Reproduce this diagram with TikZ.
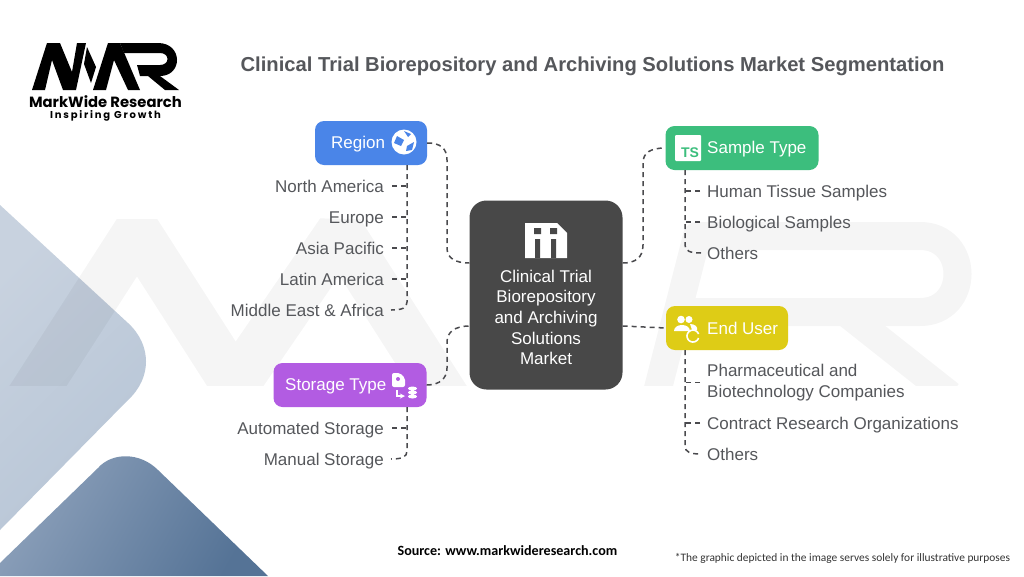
\documentclass[tikz,border=0pt]{standalone}
\usepackage{fontspec}
\setmainfont{Liberation Sans}
\newfontfamily\logofont{Poppins}
\newfontfamily\notefont{Carlito}
\usetikzlibrary{shadings,calc}
\definecolor{txtgray}{HTML}{55575B}
\definecolor{darkbox}{HTML}{484848}
\definecolor{conn}{HTML}{4A4A4E}
\definecolor{regionc}{HTML}{4A85E8}
\definecolor{samplec}{HTML}{3CBE7D}
\definecolor{storagec}{HTML}{B25CE2}
\definecolor{userc}{HTML}{DECC16}
\tikzset{
 x=1pt,y=-1pt,
 catbox/.style={rounded corners=9pt,draw=none,inner sep=0,minimum height=44pt},
 cattext/.style={text=white,font=\fontsize{17}{20}\selectfont,inner sep=0,anchor=west,text height=12pt,text depth=0pt},
 leftitem/.style={text=txtgray,font=\fontsize{17}{20}\selectfont,inner sep=0,anchor=east,text height=12pt,text depth=0pt},
 rightitem/.style={text=txtgray,font=\fontsize{17}{20}\selectfont,inner sep=0,anchor=west,text height=12pt,text depth=0pt},
 rightblock/.style={text=txtgray,font=\fontsize{17}{21}\selectfont,inner sep=0,anchor=west,align=left},
 link/.style={draw=conn,line width=1.5pt,dash pattern=on 5pt off 4pt},
 wmarkA/.style={draw=black,line width=48pt,line join=bevel,fill=none},
 wmarkB/.style={draw=black,line width=28pt,line join=round,fill=none},
}
\begin{document}
\begin{tikzpicture}
\useasboundingbox (0,0) rectangle (1024,576);
\fill[white] (0,0) rectangle (1024,576);
% decorative shapes
\shade[shading=axis,left color={rgb,255:red,200;green,210;blue,223},right color={rgb,255:red,183;green,197;blue,214},shading angle=45]
 (0,205) -- (128,323) .. controls (152,345) and (152,378) .. (128,400) -- (0,530) -- cycle;
\shade[shading=axis,left color={rgb,255:red,140;green,160;blue,186},right color={rgb,255:red,85;green,115;blue,150},shading angle=60]
 (0,576) -- (0,563) -- (98,468) .. controls (112,452) and (140,452) .. (158,470) -- (268,576) -- cycle;
% watermark
\begin{scope}[opacity=.04,transparency group]
\clip (0,218) rectangle (1024,385);
\draw[wmarkA] (0,445) -- (137,232) -- (235,385) -- (340,232) -- (460,420);
\draw[wmarkB] (655,400) -- (697,236) -- (920,236) .. controls (970,236) and (970,312) .. (920,312) -- (675,312);
\draw[wmarkB] (845,312) -- (950,395);
\end{scope}
% title
\node[inner sep=0,text=txtgray,font=\bfseries\fontsize{20.2}{24}\selectfont] (title) at (592.5,66) {Clinical Trial Biorepository and Archiving Solutions Market Segmentation};
% logo
\fill[black] (32,90) -- (47,43) -- (60,43) -- (72,72) -- (77,43) -- (86,43) -- (76,90) -- (63,90) -- (52,60) -- (45,90) -- cycle;
\fill[black] (87,47) -- (96,67) -- (91,83) -- (84,64) -- cycle;
\fill[black] (93,90) -- (108,43) -- (120,43) -- (140,90) -- (128,90) -- (114,60) -- (106,90) -- cycle;
\fill[black] (120,43) -- (158,43) .. controls (183,43) and (183,76) .. (160,76) -- (179,90) -- (165,90) -- (148,76) -- (140,76) -- (137,65) -- (160,65) .. controls (170,65) and (170,53) .. (160,53) -- (124,53) -- cycle;
\node[inner sep=0,anchor=base,font=\logofont\bfseries\fontsize{14.8}{16}\selectfont,text=black] (logoa) at (105.5,107) {MarkWide Research};
\node[inner sep=0,anchor=base,font=\logofont\bfseries\fontsize{10}{12}\selectfont,text=black] (logob) at (105.5,118) {\addfontfeature{LetterSpace=18}Inspiring Growth};
% centre
\node[fill=darkbox,rounded corners=17pt,minimum width=153pt,minimum height=189pt,inner sep=0] (center) at (546,295) {};
\node[inner sep=0,text=white,align=center,font=\fontsize{17}{20.6}\selectfont] (centertext) at (546,317.5) {Clinical Trial\\Biorepository\\and Archiving\\Solutions\\Market};
\fill[white] (525,223) -- (557,223) -- (567,233) -- (567,258) -- (525,258) -- cycle;
\fill[darkbox] (534,228) rectangle (541,234) (550,228) rectangle (557,234);
\fill[darkbox] (535,239) rectangle (540,258) (551,239) rectangle (556,258);
% category boxes
\node[catbox,fill=regionc,minimum width=112pt] (region) at (371,143) {};
\node[cattext] (regiont) at (331,142) {Region};
\node[catbox,fill=samplec,minimum width=153pt] (sample) at (742,148) {};
\node[cattext] (samplet) at (707,147.5) {Sample Type};
\node[catbox,fill=storagec,minimum width=153pt] (storage) at (350,385) {};
\node[cattext] (storaget) at (285,384.5) {Storage Type};
\node[catbox,fill=userc,minimum width=122pt] (enduser) at (727,328) {};
\node[cattext] (endusert) at (707,328) {End User};
% icons
\fill[white] (404,142) circle (12.5pt);
\fill[regionc] (397,136) -- (404,140) -- (401,146) -- (394,143) -- cycle (407,146) -- (414,142) -- (412,150) -- (406,151) -- cycle (404,131) -- (411,134) -- (408,137) -- cycle;
\fill[white,rounded corners=1pt] (675,135) rectangle (701,161);
\node[inner sep=0,text=samplec,font=\bfseries\fontsize{14}{15}\selectfont] (tsicon) at (690,153) {TS};
\fill[white] (681,319.5) circle (3.8pt) (689,319.5) circle (3.5pt);
\fill[white] (674,331) .. controls (674,323) and (690,323) .. (690,331) -- cycle (690,324) .. controls (695,324) and (698,327) .. (697,330) -- (692,330) -- cycle;
\draw[white,line width=1.6pt] (698.6,334) arc (20:340:6pt);
\fill[white,rounded corners=2pt] (392,373) -- (400,373) -- (405,378) -- (405,387) -- (392,387) -- cycle;
\fill[storagec] (398,379) circle (2pt);
\fill[white] (412.5,388.5) ellipse (4.5pt and 2pt) (412.5,392.5) ellipse (4.5pt and 2pt) (412.5,396.5) ellipse (4.5pt and 2pt);
\draw[white,line width=1.3pt,->,>=stealth] (397,390) -- (397,396) -- (405,396);
% items
\node[leftitem] (na) at (384,186) {North America};
\node[leftitem] (eu) at (384,217) {Europe};
\node[leftitem] (ap) at (384,248) {Asia Pacific};
\node[leftitem] (la) at (384,279) {Latin America};
\node[leftitem] (me) at (384,310) {Middle East \& Africa};
\node[leftitem] (as) at (384,428) {Automated Storage};
\node[leftitem] (ms) at (384,459) {Manual Storage};
\node[rightitem] (ht) at (707,191) {Human Tissue Samples};
\node[rightitem] (bs) at (707,222) {Biological Samples};
\node[rightitem] (ot1) at (707,253) {Others};
\node[rightblock] (pb) at (707,382.5) {Pharmaceutical and\\Biotechnology Companies};
\node[rightitem] (cr) at (707,423) {Contract Research Organizations};
\node[rightitem] (ot2) at (707,454) {Others};
% connectors: centre
\draw[link] (region.east) .. controls (440,143) and (447,148) .. (447,160) -- (447,248) .. controls (447,258) and (455,263) .. (center.west |- 0,263);
\draw[link] (storage.east) .. controls (440,385) and (447,378) .. (447,368) -- (447,342) .. controls (447,332) and (455,326) .. (center.west |- 0,326);
\draw[link] (center.east |- 0,263) .. controls (635,263) and (643,258) .. (643,245) -- (643,163) .. controls (643,153) and (650,148) .. (sample.west);
\draw[link] (center.east |- 0,326) -- (enduser.west);
% connectors: branches
\draw[link] (region.south -| 407,0) -- (407,302) .. controls (407,308) and (402,310) .. (391,310);
\foreach \n in {na,eu,ap,la}{\draw[link] (392,0 |- \n.east) -- (407,0 |- \n.east);}
\draw[link] (storage.south -| 407,0) -- (407,451) .. controls (407,457) and (402,459) .. (391,459);
\draw[link] (392,0 |- as.east) -- (407,0 |- as.east);
\draw[link] (sample.south -| 685,0) -- (685,245) .. controls (685,251) and (690,253) .. (701,253);
\foreach \n in {ht,bs}{\draw[link] (700,0 |- \n.west) -- (685,0 |- \n.west);}
\draw[link] (enduser.south -| 685,0) -- (685,446) .. controls (685,452) and (690,454) .. (701,454);
\foreach \n in {pb,cr}{\draw[link] (700,0 |- \n.west) -- (685,0 |- \n.west);}
% footer
\node[inner sep=0,font=\notefont\bfseries\fontsize{14.1}{16}\selectfont,text=black] (src) at (507.5,551) {Source: www.markwideresearch.com};
\node[inner sep=0,font=\notefont\fontsize{11.4}{14}\selectfont,text=black!80] (note) at (842.5,558) {*The graphic depicted in the image serves solely for illustrative purposes};
\end{tikzpicture}
\end{document}
